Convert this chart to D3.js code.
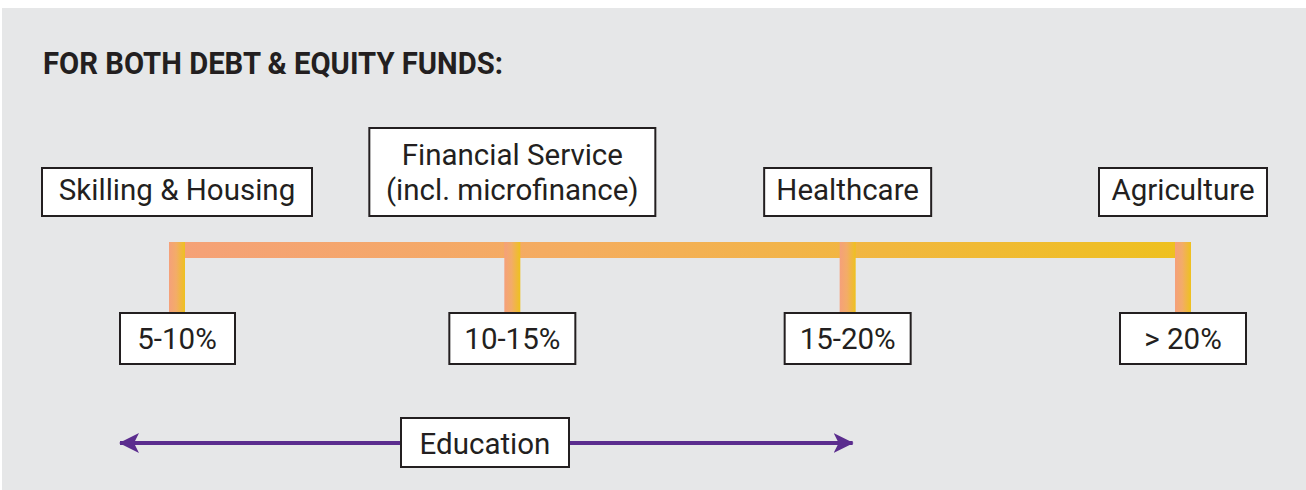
<!DOCTYPE html>
<html>
<head>
<meta charset="utf-8">
<script src="https://cdn.jsdelivr.net/npm/d3@7"></script>
<style>
  body { margin: 0; background: #fff; }
  text { font-family: Roboto, "Liberation Sans", sans-serif; fill: #231f20; }
</style>
</head>
<body>
<svg id="chart"></svg>
<script>
var width = 1306,
    height = 490;

// data
var title = "FOR BOTH DEBT & EQUITY FUNDS:";
var ranges = ["5-10%", "10-15%", "15-20%", "> 20%"];
var sectors = [["Skilling & Housing"], ["Financial Service", "(incl. microfinance)"], ["Healthcare"], ["Agriculture"]];
var sectorWidths = [270, 286, 167, 168];
var eduLabel = "Education";
var eduSpan = ["5-10%", "15-20%"];

var fs = 29.5;

var svg = d3.select("#chart")
    .attr("width", width)
    .attr("height", height);

var defs = svg.append("defs");

// horizontal bar gradient
var g1 = defs.append("linearGradient")
    .attr("id", "barGrad")
    .attr("gradientUnits", "userSpaceOnUse")
    .attr("x1", 169).attr("x2", 1191).attr("y1", 0).attr("y2", 0);
g1.append("stop").attr("offset", "0%").attr("stop-color", "#f5a178");
g1.append("stop").attr("offset", "40%").attr("stop-color", "#f4ad5f");
g1.append("stop").attr("offset", "100%").attr("stop-color", "#eec11e");

var g2 = defs.append("linearGradient")
    .attr("id", "tickGrad")
    .attr("x1", "0%").attr("x2", "100%");
g2.append("stop").attr("offset", "0%").attr("stop-color", "#f5a07a");
g2.append("stop").attr("offset", "45%").attr("stop-color", "#f3ac68");
g2.append("stop").attr("offset", "100%").attr("stop-color", "#eec11e");

defs.append("marker")
    .attr("id", "arrow")
    .attr("viewBox", "0 0 20 20")
    .attr("refX", 19).attr("refY", 10)
    .attr("markerWidth", 20).attr("markerHeight", 20)
    .attr("markerUnits", "userSpaceOnUse")
    .attr("orient", "auto-start-reverse")
  .append("path")
    .attr("d", "M0,0 L20,10 L0,20 L5,10 Z")
    .attr("fill", "#5b2d8e");

// background panel
svg.append("rect")
    .attr("x", 2).attr("y", 8)
    .attr("width", width - 2).attr("height", height - 8)
    .attr("fill", "#e6e7e8");

svg.append("text")
    .attr("x", 43).attr("y", 74)
    .attr("font-size", 30.5)
    .attr("font-weight", "bold")
    .attr("textLength", 460)
    .attr("lengthAdjust", "spacingAndGlyphs")
    .text(title);

// scale
var x = d3.scalePoint()
    .domain(ranges)
    .range([177, 1183]);

var barTop = 242, barH = 16, tickBottom = 313;

svg.append("rect")
    .attr("x", x(ranges[0]) - 8)
    .attr("y", barTop)
    .attr("width", x(ranges[ranges.length - 1]) - x(ranges[0]) + 16)
    .attr("height", barH)
    .attr("fill", "url(#barGrad)");

svg.selectAll(".tick")
    .data(ranges)
  .enter().append("rect")
    .attr("class", "tick")
    .attr("x", d => x(d) - 8)
    .attr("y", barTop)
    .attr("width", 16)
    .attr("height", tickBottom - barTop)
    .attr("fill", "url(#tickGrad)");

// range boxes
var rb = svg.selectAll(".rbox")
    .data(ranges)
  .enter().append("g")
    .attr("class", "rbox")
    .attr("transform", d => `translate(${x(d)}, ${tickBottom})`);

rb.append("rect")
    .attr("x", (d, i) => i == 0 ? -57 : -63)
    .attr("y", 0)
    .attr("width", (d, i) => i == 0 ? 115 : 126)
    .attr("height", 51)
    .attr("fill", "#fff")
    .attr("stroke", "#231f20")
    .attr("stroke-width", 2);

rb.append("text")
    .attr("text-anchor", "middle")
    .attr("y", 36)
    .attr("font-size", fs)
    .text(d => d);

// sector boxes
var sb = svg.selectAll(".sbox")
    .data(sectors)
  .enter().append("g")
    .attr("class", "sbox")
    .attr("transform", (d, i) => `translate(${x(ranges[i])}, 216)`);

sb.append("rect")
    .attr("x", (d, i) => -sectorWidths[i] / 2)
    .attr("y", d => d.length > 1 ? -88 : -48)
    .attr("width", (d, i) => sectorWidths[i])
    .attr("height", d => d.length > 1 ? 88 : 48)
    .attr("fill", "#fff")
    .attr("stroke", "#231f20")
    .attr("stroke-width", 2);

sb.selectAll("text")
    .data(d => d.map((t, j) => ({t: t, j: j, n: d.length})))
  .enter().append("text")
    .attr("text-anchor", "middle")
    .attr("y", d => -16 - (d.n - 1 - d.j) * 35)
    .attr("font-size", fs)
    .text(d => d.t);

// education arrow
var eduY = 443;
svg.append("line")
    .attr("x1", x(eduSpan[0]) - 57)
    .attr("x2", x(eduSpan[1]) + 5)
    .attr("y1", eduY).attr("y2", eduY)
    .attr("stroke", "#5b2d8e")
    .attr("stroke-width", 4)
    .attr("marker-start", "url(#arrow)")
    .attr("marker-end", "url(#arrow)");

svg.append("rect")
    .attr("x", 401).attr("y", 418)
    .attr("width", 168).attr("height", 49)
    .attr("fill", "#fff")
    .attr("stroke", "#231f20")
    .attr("stroke-width", 2);

svg.append("text")
    .attr("x", 485).attr("y", 454)
    .attr("text-anchor", "middle")
    .attr("font-size", fs)
    .text(eduLabel);
</script>
</body>
</html>
